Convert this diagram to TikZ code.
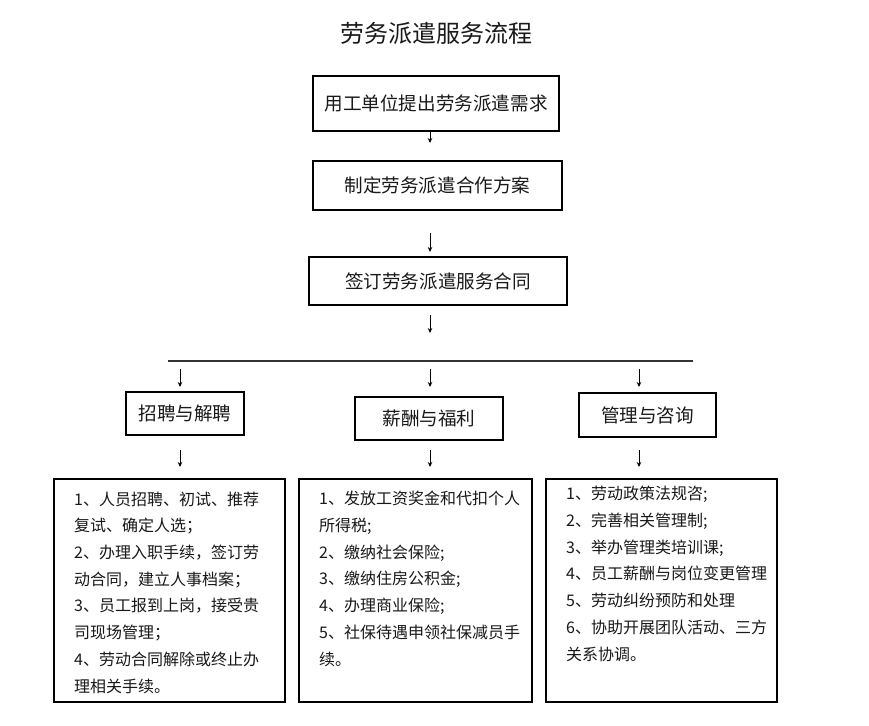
\documentclass[tikz,border=0pt]{standalone}
\usepackage{fontspec}
\setmainfont{Noto Sans CJK SC}
\usetikzlibrary{arrows.meta}
\begin{document}
\begin{tikzpicture}[x=1pt,y=-1pt,
  box/.style={draw=black, line width=1.2pt, inner sep=0pt, text=black!90,
    font=\fontsize{18.6pt}{22pt}\selectfont},
  bigbox/.style={draw=black, line width=1.2pt, inner sep=0pt},
  listtext/.style={align=left, inner sep=0pt, anchor=base west, text=black!90,
    font=\fontsize{16pt}{26.7pt}\selectfont},
  arr/.style={-{Stealth[length=5pt,width=4.5pt]}, line width=0.9pt, black}]
\useasboundingbox (0,0) rectangle (869,725);
\fill[white] (0,0) rectangle (869,725);

\node[font=\fontsize{24pt}{28pt}\selectfont, text=black!90] (title) at (436,33) {劳务派遣服务流程};

\node[box, minimum width=246pt, minimum height=55pt] (b1) at (436,103.5) {用工单位提出劳务派遣需求};
\node[box, minimum width=249pt, minimum height=49pt] (b2) at (437.5,185.5) {制定劳务派遣合作方案};
\node[box, minimum width=258pt, minimum height=48pt] (b3) at (438,281) {签订劳务派遣服务合同};

\node[box, minimum width=118pt, minimum height=43pt] (m1) at (185,413.5) {招聘与解聘};
\node[box, minimum width=148pt, minimum height=43pt] (m2) at (429,418.5) {薪酬与福利};
\node[box, minimum width=137pt, minimum height=44pt] (m3) at (647.5,415) {管理与咨询};

\node[bigbox, minimum width=231pt, minimum height=223pt] (l1) at (169.5,590.5) {};
\node[bigbox, minimum width=233pt, minimum height=223pt] (l2) at (415.5,590.5) {};
\node[bigbox, minimum width=231pt, minimum height=223pt] (l3) at (661.5,590.5) {};

% anchor base = baseline of the last line
\node[listtext] (t1) at (74,692) {1、人员招聘、初试、推荐\\复试、确定人选；\\2、办理入职手续，签订劳\\动合同，建立人事档案；\\3、员工报到上岗，接受贵\\司现场管理；\\4、劳动合同解除或终止办\\理相关手续。};
\node[listtext] (t2) at (319,665) {1、发放工资奖金和代扣个人\\所得税;\\2、缴纳社会保险;\\3、缴纳住房公积金;\\4、办理商业保险;\\5、社保待遇申领社保减员手\\续。};
\node[listtext] (t3) at (566,660) {1、劳动政策法规咨;\\2、完善相关管理制;\\3、举办管理类培训课;\\4、员工薪酬与岗位变更管理\\5、劳动纠纷预防和处理\\6、协助开展团队活动、三方\\关系协调。};

\coordinate (hl) at (168,361);
\coordinate (hr) at (693,361);
\draw[line width=1.5pt, black!80] (hl) -- (hr);

\coordinate (a1s) at (430,131); \coordinate (a1e) at (430,143);
\coordinate (a2s) at (430,233); \coordinate (a2e) at (430,252);
\coordinate (a3s) at (430,315); \coordinate (a3e) at (430,333);
\coordinate (a4s) at (180,369); \coordinate (a4e) at (180,387);
\coordinate (a5s) at (430,369); \coordinate (a5e) at (430,387);
\coordinate (a6s) at (639,369); \coordinate (a6e) at (639,387);
\coordinate (a7s) at (180,450); \coordinate (a7e) at (180,467);
\coordinate (a8s) at (430,450); \coordinate (a8e) at (430,467);
\coordinate (a9s) at (639,450); \coordinate (a9e) at (639,467);
\foreach \i in {1,...,9} {\draw[arr] (a\i s) -- (a\i e);}
\end{tikzpicture}
\end{document}
